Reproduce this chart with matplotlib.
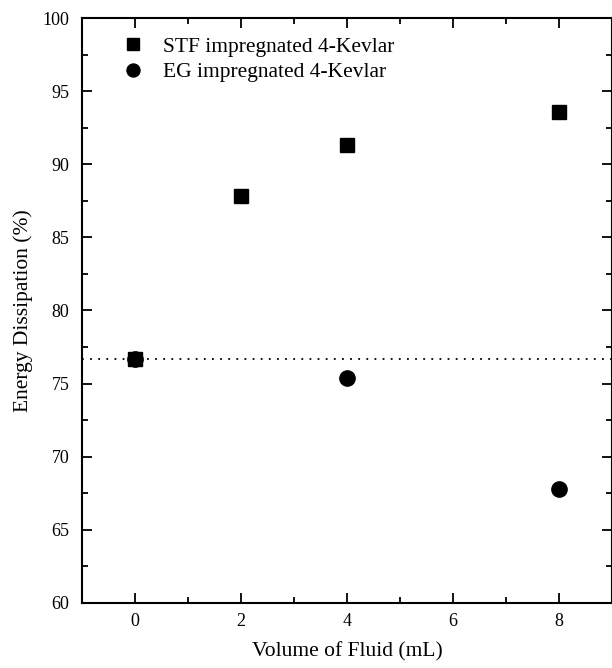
import matplotlib
matplotlib.use("Agg")
import matplotlib.pyplot as plt
from matplotlib.ticker import MultipleLocator

plt.rcParams['font.family'] = ['Liberation Serif', 'DejaVu Serif']

stf_x = [0, 2, 4, 8]
stf_y = [76.7, 87.85, 91.3, 93.6]
eg_x = [0, 4, 8]
eg_y = [76.7, 75.35, 67.8]
baseline = 76.7

fig = plt.figure(figsize=(6.12, 6.68), dpi=100)
ax = fig.add_axes([0.134, 0.0975, 0.866, 0.8755])

ax.plot(eg_x, eg_y, 'o', color='black', markersize=11, linestyle='none',
        label='EG impregnated 4-Kevlar', zorder=3)
ax.plot(stf_x, stf_y, 's', color='black', markersize=10.5, linestyle='none',
        label='STF impregnated 4-Kevlar', zorder=4)
ax.axhline(baseline, color='black', linestyle=(0, (1, 3.5)), linewidth=1.3, zorder=2)

ax.set_xlim(-1, 9)
ax.set_ylim(60, 100)
ax.xaxis.set_major_locator(MultipleLocator(2))
ax.xaxis.set_minor_locator(MultipleLocator(1))
ax.yaxis.set_major_locator(MultipleLocator(5))
ax.yaxis.set_minor_locator(MultipleLocator(2.5))
ax.tick_params(which='both', direction='in', top=True, right=True, width=1.3,
               labelsize=13)
ax.tick_params(axis='y', pad=9)
ax.tick_params(axis='x', pad=7)
ax.tick_params(which='major', length=7)
ax.tick_params(which='minor', length=4)
for s in ax.spines.values():
    s.set_linewidth(1.5)

ax.set_xlabel('Volume of Fluid (mL)', fontsize=15.5, labelpad=9)
ax.set_ylabel('Energy Dissipation (%)', fontsize=15.5, labelpad=7)

h, l = ax.get_legend_handles_labels()
ax.legend([h[1], h[0]], [l[1], l[0]], loc='upper left', frameon=False,
          fontsize=15.5, bbox_to_anchor=(0.039, 1.001), handlelength=1.0,
          handletextpad=0.9, labelspacing=0.25, markerscale=0.85)

fig.savefig('out.png', dpi=100)
